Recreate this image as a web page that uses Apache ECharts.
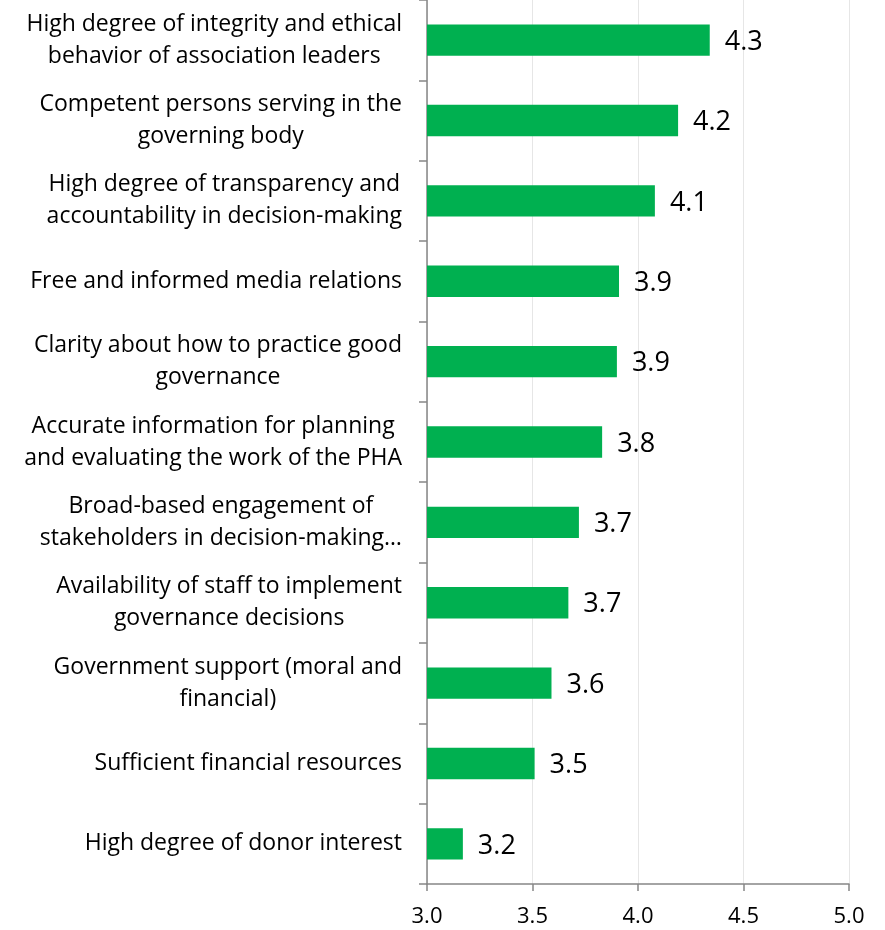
<!DOCTYPE html>
<html>
<head>
<meta charset="utf-8">
<script src="https://cdn.jsdelivr.net/npm/echarts@6/dist/echarts.min.js"></script>
<style>html,body{margin:0;padding:0;background:#fff}#c{width:885px;height:930px}</style>
</head>
<body>
<div id="c"></div>
<script>
const categories = [
  "High degree of integrity and ethical\nbehavior of association leaders",
  "Competent persons serving in the\ngoverning body",
  "High degree of transparency and\naccountability in decision-making",
  "Free and informed media relations",
  "Clarity about how to practice good\ngovernance",
  "Accurate information for planning\nand evaluating the work of the PHA",
  "Broad-based engagement of\nstakeholders in decision-making…",
  "Availability of staff to implement\ngovernance decisions",
  "Government support (moral and\nfinancial)",
  "Sufficient financial resources",
  "High degree of donor interest"
];
const values = [4.34, 4.19, 4.08, 3.91, 3.90, 3.83, 3.72, 3.67, 3.59, 3.51, 3.17];
const xTicks = [3.0, 3.5, 4.0, 4.5, 5.0];

const FONT = '"Open Sans"';
const chart = echarts.init(document.getElementById('c'), null, {renderer: 'canvas'});
chart.setOption({
  animation: false,
  grid: {left: 427, right: 36, top: 0, bottom: 46, containLabel: false},
  xAxis: {
    type: 'value',
    min: xTicks[0], max: xTicks[xTicks.length - 1], interval: 0.5,
    axisLine: {show: true, lineStyle: {color: '#868686', width: 1.5}},
    axisTick: {show: true, length: 7, lineStyle: {color: '#868686', width: 1.5}},
    splitLine: {show: true, lineStyle: {color: '#e6e6e6', width: 1}},
    axisLabel: {
      margin: 22, color: '#000', fontFamily: FONT, fontSize: 22,
      formatter: v => v.toFixed(1)
    }
  },
  yAxis: {
    type: 'category',
    inverse: true,
    data: categories,
    axisLine: {show: true, lineStyle: {color: '#868686', width: 1.5}},
    axisTick: {show: true, length: 8, lineStyle: {color: '#868686', width: 1.5}},
    axisLabel: {
      margin: 25, color: '#000', fontFamily: FONT, fontSize: 23, lineHeight: 32,
      formatter: s => s.split('\n').map(l => '{c|' + l + '}').join('\n'),
      rich: {c: {align: 'center', fontFamily: FONT, fontSize: 23, lineHeight: 32, color: '#000'}}
    }
  },
  series: [{
    type: 'bar',
    data: values,
    barWidth: '39%',
    itemStyle: {color: '#00B050'},
    label: {
      show: true, position: 'right', distance: 15,
      color: '#000', fontFamily: FONT, fontSize: 27,
      offset: [0, 2],
      formatter: p => p.value.toFixed(1)
    }
  }]
});
</script>
</body>
</html>
